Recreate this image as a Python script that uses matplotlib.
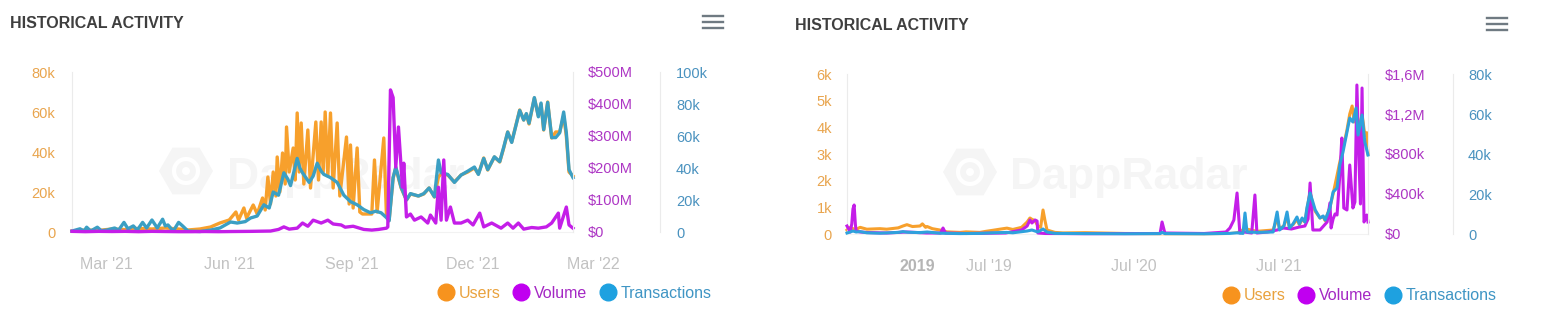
import numpy as np
import pandas as pd
import matplotlib
matplotlib.use("Agg")
import matplotlib.pyplot as plt
from matplotlib.lines import Line2D
from matplotlib.patches import RegularPolygon, Circle
from matplotlib.transforms import IdentityTransform, blended_transform_factory

plt.rcParams["font.family"] = ["Liberation Sans", "DejaVu Sans"]

# ---- left chart: (days since 2021-02-03, value) ----
left_start = "2021-02-03"
left_users_k = [(0, 0.5), (10, 1.0), (20, 0.8), (30, 1.5), (40, 1.2), (50, 1.8), (60, 1.5), (70, 2.0),
                (80, 1.5), (87, 1.0), (96, 1.5), (104, 2.5), (111, 4.5), (118, 6.0), (123, 10), (125, 6),
                (129, 12), (131, 7), (136, 13.5), (139, 9), (143, 17), (145, 11), (147, 27.5), (149, 14),
                (151, 30), (153, 18), (154, 37.5), (156, 20), (158, 39.5), (160, 24), (161, 52.5), (163, 30),
                (166, 42), (167.5, 26), (169, 59.5), (170.5, 30), (172, 54.5), (174, 24), (177, 51), (179, 22),
                (183, 55), (185, 26), (187, 55), (188.5, 30), (190, 60), (192, 28), (194, 59.5), (196, 22),
                (199, 54.5), (201, 18), (206, 47.5), (208, 14), (209, 43.5), (211, 12), (214, 42), (216, 10),
                (218, 9), (225, 9), (227, 36), (229, 10), (234, 47), (236, 8), (238, 6), (241, 27), (243, 32),
                (247, 22), (251, 16), (254, 19), (260, 18), (264, 19), (268, 22), (272, 17.5), (275, 27.5),
                (277, 29), (282, 28.5), (287, 25), (292, 28.5), (297, 30), (302, 32), (305, 29), (309, 37),
                (312, 31), (317, 37.5), (321, 35), (324, 42), (327, 50), (330, 45), (333, 53), (336, 61),
                (339, 56), (341, 59), (343, 54), (347, 67), (350, 58), (352, 64), (354, 51), (357, 65),
                (360, 47), (363, 50), (366, 50), (369, 58), (371, 48), (373, 30), (376, 28)]
left_volume_m = [(0, 2), (10, 1), (20, 2), (30, 1.5), (40, 2), (50, 1), (60, 2), (70, 1.5), (80, 1), (90, 1),
                 (100, 1.5), (110, 1), (120, 1.5), (134, 2), (149, 3), (155, 8), (159, 16), (163, 9), (169, 12),
                 (173, 28), (177, 18), (181, 37), (187, 28), (192, 37), (196, 25), (202, 22), (205, 15),
                 (211, 18), (219, 8), (225, 6), (230, 8), (236, 12), (237, 16), (239, 444), (241, 420),
                 (243, 203), (245, 328), (248, 140), (249, 215), (251, 47), (254, 56), (257, 37), (262, 47),
                 (267, 28), (269, 53), (273, 28), (275, 140), (277, 37), (279, 225), (281, 37), (284, 78),
                 (287, 28), (292, 28), (297, 37), (301, 22), (306, 59), (309, 16), (315, 28), (322, 12),
                 (327, 28), (331, 12), (335, 28), (339, 9), (345, 14), (350, 12), (356, 16), (360, 28),
                 (365, 59), (366, 12), (371, 78), (373, 22), (376, 12)]
left_tx_k = [(0, 0.6), (6, 2), (9, 0.6), (11, 3), (14, 0.6), (19, 3), (22, 0.8), (26, 1.2), (32, 2.5), (35, 1.2),
             (39, 6), (42, 2), (46, 3.8), (49, 1.2), (53, 6), (56, 2.5), (60, 7.5), (64, 2.5), (68, 8), (70, 3.8),
             (72, 4.4), (76, 0.6), (80, 6), (83, 3.8), (87, 0.6), (96, 0.3), (104, 1.2), (111, 2.5), (119, 6.25),
             (124, 5.6), (130, 6.5), (134, 8.75), (139, 10), (144, 17), (148, 15), (151, 25), (155, 23),
             (159, 37), (162, 33), (164, 29), (169, 46), (171, 40), (173, 37), (178, 31), (181, 35), (184, 43),
             (187, 38), (189, 36), (194, 34), (199, 31), (204, 23), (209, 19), (214, 17), (219, 14), (224, 12),
             (228, 13), (232, 12), (236, 9), (238, 7), (241, 34), (243, 40.6), (247, 28), (251, 20), (254, 24),
             (260, 22.5), (264, 24), (268, 27.5), (272, 22), (275, 45), (277, 37), (282, 36), (287, 31),
             (292, 35.6), (297, 38), (302, 40.6), (305, 36), (309, 46), (312, 39), (317, 47), (321, 44),
             (324, 53), (327, 62.5), (330, 56), (333, 66), (336, 76), (339, 70), (341, 74), (343, 68), (347, 84),
             (350, 72), (352, 80.6), (354, 64), (357, 81), (360, 59), (363, 59), (366, 62), (369, 75), (371, 62),
             (373, 39), (376, 34)]
left_xtick_dates = ["2021-03-01", "2021-06-01", "2021-09-01", "2021-12-01", "2022-03-01"]
left_xtick_labels = ["Mar '21", "Jun '21", "Sep '21", "Dec '21", "Mar '22"]
left_users_ticks = [0, 20, 40, 60, 80]
left_users_labels = ["0", "20k", "40k", "60k", "80k"]
left_vol_ticks = [0, 100, 200, 300, 400, 500]
left_vol_labels = ["$0", "$100M", "$200M", "$300M", "$400M", "$500M"]
left_tx_ticks = [0, 20, 40, 60, 80, 100]
left_tx_labels = ["0", "20k", "40k", "60k", "80k", "100k"]

# ---- right chart: (days since 2018-07-09, value) ----
right_start = "2018-07-09"
right_users = [(0, 150), (8, 250), (15, 200), (23, 170), (33, 250), (50, 180), (83, 200), (100, 180), (129, 230),
               (141, 300), (151, 350), (165, 280), (184, 300), (190, 380), (198, 250), (202, 280), (215, 200),
               (234, 150), (252, 80), (285, 60), (300, 80), (335, 60), (350, 100), (368, 140), (385, 180),
               (403, 220), (418, 170), (440, 250), (454, 450), (461, 600), (466, 550), (474, 500), (481, 300),
               (488, 250), (494, 900), (499, 500), (504, 150), (524, 60), (544, 40), (600, 50), (700, 20),
               (800, 10), (900, 10), (965, 20), (983, 40), (1003, 200), (1033, 100), (1074, 150), (1084, 600),
               (1090, 200), (1101, 300), (1109, 650), (1115, 250), (1124, 350), (1134, 550), (1140, 350),
               (1147, 550), (1154, 450), (1159, 900), (1167, 1600), (1174, 1100), (1180, 850), (1192, 600),
               (1200, 650), (1205, 500), (1217, 1000), (1225, 1500), (1235, 2200), (1242, 2700), (1250, 3200),
               (1260, 3900), (1267, 4500), (1273, 4800), (1278, 4200), (1283, 4700), (1288, 3800), (1298, 4500),
               (1305, 3700), (1310, 3800), (1313, 3000)]
right_volume_k = [(0, 80), (8, 20), (12, 100), (15, 250), (18, 290), (21, 100), (23, 30), (33, 20), (50, 15),
                  (100, 10), (150, 20), (200, 10), (236, 10), (242, 60), (248, 10), (300, 5), (400, 10), (440, 40),
                  (454, 80), (461, 140), (466, 110), (474, 140), (479, 130), (481, 10), (500, 5), (600, 3),
                  (789, 5), (794, 120), (801, 10), (900, 5), (955, 20), (965, 60), (975, 140), (983, 410),
                  (990, 10), (1000, 20), (1020, 10), (1028, 390), (1033, 10), (1060, 20), (1084, 40), (1100, 60),
                  (1120, 50), (1140, 70), (1154, 80), (1162, 150), (1167, 510), (1174, 40), (1192, 40),
                  (1210, 120), (1217, 310), (1220, 60), (1225, 150), (1230, 200), (1235, 190), (1242, 590),
                  (1247, 960), (1252, 260), (1260, 240), (1267, 690), (1275, 260), (1280, 320), (1285, 1490),
                  (1290, 760), (1294, 300), (1298, 1460), (1303, 120), (1310, 190), (1313, 120)]
right_tx_k = [(0, 0.5), (8, 1.0), (15, 1.5), (23, 1.0), (33, 1.2), (50, 0.6), (83, 0.4), (129, 0.8), (141, 1.2),
              (151, 0.9), (184, 0.7), (202, 1.0), (234, 0.4), (285, 0.2), (335, 0.3), (368, 0.6), (403, 0.8),
              (418, 0.6), (454, 1.5), (466, 2.0), (481, 1.0), (494, 2.5), (504, 1.0), (524, 0.3), (600, 0.2),
              (700, 0.1), (789, 0.2), (794, 0.8), (801, 0.2), (900, 0.1), (965, 0.3), (983, 0.6), (998, 0.3),
              (1003, 10.5), (1008, 1.0), (1033, 0.8), (1074, 1.0), (1084, 11), (1090, 2), (1101, 4), (1109, 11),
              (1115, 3), (1124, 5), (1134, 8.5), (1140, 5), (1147, 8), (1154, 6), (1159, 13), (1167, 20.5),
              (1174, 16), (1180, 12), (1192, 8), (1200, 9), (1205, 7), (1217, 13), (1225, 21), (1235, 23),
              (1242, 34.5), (1250, 41), (1260, 51), (1267, 58), (1275, 56), (1283, 63), (1288, 49.5),
              (1298, 59.5), (1305, 46), (1313, 39.5)]
right_xtick_dates = ["2019-01-01", "2019-07-01", "2020-07-01", "2021-07-01"]
right_xtick_labels = ["2019", "Jul '19", "Jul '20", "Jul '21"]
right_users_ticks = [0, 1000, 2000, 3000, 4000, 5000, 6000]
right_users_labels = ["0", "1k", "2k", "3k", "4k", "5k", "6k"]
right_vol_ticks = [0, 400, 800, 1200, 1600]
right_vol_labels = ["$0", "$400k", "$800k", "$1,2M", "$1,6M"]
right_tx_ticks = [0, 20, 40, 60, 80]
right_tx_labels = ["0", "20k", "40k", "60k", "80k"]

series_names = ["Users", "Volume", "Transactions"]

ORANGE = "#f7a02c"
PURPLE = "#c41ee8"
LINE_GREY = "#ebebeb"

W, H = 1544, 324
fig = plt.figure(figsize=(W / 100, H / 100), dpi=100)


def box(x0, y0, x1, y1):
    return [x0 / W, 1 - y1 / H, (x1 - x0) / W, (y1 - y0) / H]


def series(start, pts):
    d = np.array([p[0] for p in pts], float)
    v = np.array([p[1] for p in pts], float)
    t = (pd.Timestamp(start) + pd.to_timedelta(d, unit="D")).to_numpy()
    return t, v


def style_y(ax, ticks, labels, color, pad, lim):
    ax.set_ylim(0, lim)
    ax.set_yticks(ticks)
    ax.set_yticklabels(labels)
    ax.tick_params(axis="y", length=0, pad=pad, labelsize=10.5, labelcolor=color)


def panel(px, start, users, vol, tx, cfg):
    ax = fig.add_axes(box(*px))
    if cfg["vol_on_top"]:
        ax_tx = ax.twinx()
        ax_vol = ax.twinx()
    else:
        ax_vol = ax.twinx()
        ax_tx = ax.twinx()
    for a in (ax, ax_tx, ax_vol):
        a.set_facecolor("none")
        for s in a.spines.values():
            s.set_visible(False)
    ax.spines["left"].set_visible(True)
    ax.spines["left"].set_color(LINE_GREY)
    ax.spines["bottom"].set_visible(True)
    ax.spines["bottom"].set_color("#f2f2f2")
    ax_vol.spines["right"].set_visible(True)
    ax_vol.spines["right"].set_color(LINE_GREY)
    ax_tx.spines["right"].set_visible(True)
    ax_tx.spines["right"].set_color(LINE_GREY)
    ax_tx.spines["right"].set_position(("axes", cfg["tx_axis"]))

    lw = cfg["lw"]
    t, v = series(start, users)
    ax.plot(t, v, color=ORANGE, lw=lw, clip_on=False, solid_joinstyle="round")
    t2, v2 = series(start, tx)
    ax_tx.plot(t2, v2, color=cfg["tx_color"], lw=lw, clip_on=False, solid_joinstyle="round")
    t3, v3 = series(start, vol)
    ax_vol.plot(t3, v3, color=PURPLE, lw=lw, clip_on=False, solid_joinstyle="round")
    ax.set_xlim(t2[0], t2[-1])

    style_y(ax, cfg["u_ticks"], cfg["u_labels"], "#e9a54e", cfg["pads"][0], cfg["u_lim"])
    style_y(ax_vol, cfg["v_ticks"], cfg["v_labels"], "#ad36c4", cfg["pads"][1], cfg["v_lim"])
    style_y(ax_tx, cfg["t_ticks"], cfg["t_labels"], "#4a92bf", cfg["pads"][2], cfg["t_lim"])
    for a in (ax, ax_tx, ax_vol):
        a.set_xticks([])

    tr = blended_transform_factory(ax.transData, ax.transAxes)
    for d, lab in zip(cfg["x_dates"], cfg["x_labels"]):
        bold = lab.isdigit()
        ax.text(np.datetime64(d), -0.205, lab, transform=tr, ha="center", va="center",
                fontsize=11.5, color="#b5b5b5" if bold else "#c2c2c2",
                fontweight="bold" if bold else "normal", clip_on=False)

    # faint watermark behind the lines
    hx, hy = cfg["logo"]
    ax.add_patch(RegularPolygon((hx, H - hy), 6, radius=27, orientation=np.pi / 6,
                                transform=IdentityTransform(), facecolor="#f5f5f5",
                                edgecolor="none", zorder=0, clip_on=False))
    ax.add_patch(Circle((hx, H - hy), 12, transform=IdentityTransform(), facecolor="none",
                        edgecolor="white", lw=3, zorder=0.1, clip_on=False))
    ax.add_patch(Circle((hx, H - hy), 4, transform=IdentityTransform(), facecolor="white",
                        edgecolor="none", zorder=0.1, clip_on=False))
    ax.text(cfg["mark_x"] / W, 1 - 189 / H, "DappRadar", transform=fig.transFigure,
            fontsize=32, fontweight="bold", color="#f5f5f5", va="baseline", ha="left", zorder=0)

    # title
    fig.text(cfg["title"][0] / W, 1 - cfg["title"][1] / H, "HISTORICAL ACTIVITY", fontsize=11.5,
             fontweight="bold", color="#3f3f3f", va="center", ha="left")

    # menu icon
    mx, my = cfg["menu"]
    for k in range(3):
        yy = 1 - (my + 6 * k) / H
        fig.add_artist(Line2D([mx / W, (mx + 20) / W], [yy, yy], transform=fig.transFigure,
                              color="#6f7a82", lw=1.7))

    # legend
    handles = [Line2D([], [], ls="", marker="o", markersize=12, color=c)
               for c in ("#f7931e", "#c000f0", "#1ea1e0")]
    leg = fig.legend(handles, series_names, loc="center", ncol=3, frameon=False,
                     bbox_to_anchor=(cfg["legend"][0] / W, 1 - cfg["legend"][1] / H),
                     fontsize=11.5, handlelength=1.0, handletextpad=0.3, columnspacing=0.8,
                     borderpad=0, borderaxespad=0)
    for txt, c in zip(leg.get_texts(), ("#e9a23e", "#a428c4", "#3f95c4")):
        txt.set_color(c)


panel((72, 72, 573, 232), left_start, left_users_k, left_volume_m, left_tx_k,
      dict(tx_axis=588 / 501, tx_color="#3b9fc3", vol_on_top=True, lw=2.4,
           u_ticks=left_users_ticks, u_labels=left_users_labels, u_lim=80,
           v_ticks=left_vol_ticks, v_labels=left_vol_labels, v_lim=500,
           t_ticks=left_tx_ticks, t_labels=left_tx_labels, t_lim=100,
           pads=(12, 10.8, 11.5), x_dates=left_xtick_dates, x_labels=left_xtick_labels,
           logo=(186, 171), mark_x=227, title=(10, 24), menu=(703, 16), legend=(575, 293)))

panel((847, 74, 1368, 234), right_start, right_users, right_volume_k, right_tx_k,
      dict(tx_axis=606 / 521, tx_color="#2ea1dc", vol_on_top=False, lw=2.2,
           u_ticks=right_users_ticks, u_labels=right_users_labels, u_lim=6000,
           v_ticks=right_vol_ticks, v_labels=right_vol_labels, v_lim=1600,
           t_ticks=right_tx_ticks, t_labels=right_tx_labels, t_lim=80,
           pads=(10.8, 12.2, 10.8), x_dates=right_xtick_dates, x_labels=right_xtick_labels,
           logo=(970, 172), mark_x=1010, title=(795, 26), menu=(1487, 18), legend=(1360, 296)))

fig.savefig("out.png", dpi=100)
